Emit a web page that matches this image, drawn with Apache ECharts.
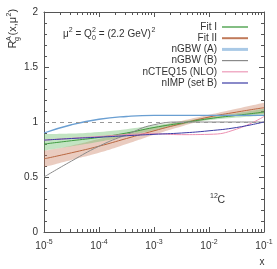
<!DOCTYPE html>
<html><head><meta charset="utf-8">
<script src="https://cdn.jsdelivr.net/npm/echarts@6/dist/echarts.min.js"></script>
<style>html,body{margin:0;padding:0;background:#fff}#c{width:277px;height:269px}</style>
</head><body><div id="c"></div>
<script>
// log10(x) sample positions
const logX   = [-5, -4.5, -4, -3.5, -3, -2.5, -2, -1.5, -1];
const fit1   = [0.80, 0.83, 0.86, 0.90, 0.95, 0.99, 1.03, 1.06, 1.09];
const fit1Lo = [0.74, 0.78, 0.82, 0.87, 0.925, 0.975, 1.015, 1.04, 1.06];
const fit1Hi = [0.89, 0.895, 0.91, 0.935, 0.97, 1.005, 1.045, 1.08, 1.12];
const fit2   = [0.665, 0.72, 0.78, 0.85, 0.92, 0.985, 1.045, 1.09, 1.13];
const fit2Lo = [0.59, 0.655, 0.72, 0.80, 0.885, 0.96, 1.025, 1.055, 1.075];
const fit2Hi = [0.74, 0.785, 0.845, 0.90, 0.955, 1.01, 1.065, 1.12, 1.175];
const ngbwA  = [0.90, 0.975, 1.025, 1.05, 1.06, 1.06, 1.06, 1.06, 1.06];
const ngbwB  = [0.50, 0.645, 0.78, 0.885, 0.975, 1.0, 1.0, 1.0, 1.0];
const ncteq  = [0.835, 0.852, 0.868, 0.885, 0.893, 0.885, 0.888, 0.935, 1.05];
const nimp   = [0.835, 0.85, 0.862, 0.875, 0.888, 0.90, 0.92, 0.95, 1.0];
const xTickExps = [-5, -4, -3, -2, -1];
const yTicks = [0, 0.5, 1, 1.5, 2];
const names = ['Fit I', 'Fit II', 'nGBW (A)', 'nGBW (B)', 'nCTEQ15 (NLO)', 'nIMP (set B)'];

const FONT = 'Liberation Sans, Arial, sans-serif';
const TXT = '#333';
const AX = '#555';
const pairs = ys => logX.map((x, i) => [x, ys[i]]);
const pairsYX = ys => logX.map((x, i) => [ys[i], x]);
const diff = (a, b) => a.map((v, i) => v - b[i]);

const minorX = [];
for (let n = -5; n < -1; n++) for (let k = 2; k <= 9; k++) minorX.push(n + Math.log10(k));

function xAxisDef(pos, major, labels) {
  return {
    type: 'value', position: pos, min: xTickExps[0], max: xTickExps[xTickExps.length - 1], interval: 1,
    axisLine: { show: major, lineStyle: { color: AX, width: 1 } },
    axisTick: major ? { show: true, inside: true, length: 5, lineStyle: { color: AX } }
                    : { show: true, inside: true, length: 3, customValues: minorX, lineStyle: { color: AX } },
    axisLabel: labels ? {
      show: true, margin: 7, color: TXT, fontFamily: FONT,
      formatter: v => '{b|10}{s|' + v + '}',
      rich: { b: { fontSize: 10, fontFamily: FONT, color: TXT, lineHeight: 14 },
              s: { fontSize: 7, fontFamily: FONT, color: TXT, verticalAlign: 'top', lineHeight: 9 } }
    } : { show: false },
    splitLine: { show: false }
  };
}
function yAxisDef(pos, labels) {
  return {
    type: 'value', position: pos, min: yTicks[0], max: yTicks[yTicks.length - 1], interval: 0.5,
    axisLine: { show: true, lineStyle: { color: AX, width: 1 } },
    axisTick: { show: true, inside: true, length: 5, lineStyle: { color: AX } },
    minorTick: { show: true, splitNumber: 5, length: 3, lineStyle: { color: AX } },
    axisLabel: labels ? { show: true, margin: 6, color: TXT, fontSize: 10, fontFamily: FONT } : { show: false },
    splitLine: { show: false }
  };
}

function line(name, ys, color, width, z) {
  return { name, type: 'line', data: pairs(ys), smooth: true, symbol: 'none', silent: true, z: z,
           lineStyle: { color, width }, itemStyle: { color } };
}
function band(stack, lo, hi, color) {
  return [
    { type: 'line', data: pairsYX(lo), encode: { x: 1, y: 0 }, stack, smooth: true, symbol: 'none', silent: true, z: 1,
      lineStyle: { opacity: 0, width: 0 } },
    { type: 'line', data: pairsYX(diff(hi, lo)), encode: { x: 1, y: 0 }, stack, smooth: true, symbol: 'none', silent: true, z: 1,
      lineStyle: { opacity: 0, width: 0 }, areaStyle: { color, opacity: 1 } }
  ];
}

const gray = line(names[3], ngbwB, '#8a8a8a', 1, 3);
gray.markLine = { silent: true, symbol: 'none', label: { show: false },
  lineStyle: { color: '#999', type: [4, 4], width: 1 }, data: [{ yAxis: 1 }] };

const bar = w => 'path://M0,0 L260,0 L260,' + (w * 10) + ' L0,' + (w * 10) + ' Z';

const chart = echarts.init(document.getElementById('c'), null, { renderer: 'canvas' });
chart.setOption({
  animation: false,
  textStyle: { fontFamily: FONT },
  grid: { left: 44, right: 13, top: 12, bottom: 37, containLabel: false },
  xAxis: [xAxisDef('bottom', true, true), xAxisDef('bottom', false, false),
          xAxisDef('top', true, false), xAxisDef('top', false, false)],
  yAxis: [yAxisDef('left', true), yAxisDef('right', false)],
  legend: {
    orient: 'vertical', align: 'right', right: 24, top: 16.5,
    itemWidth: 26, itemHeight: 11, itemGap: 0.2, symbolKeepAspect: true,
    textStyle: { fontSize: 10, color: TXT, fontFamily: FONT, lineHeight: 11 },
    data: [
      { name: names[0], icon: bar(1.4), itemStyle: { color: '#4ea34e' } },
      { name: names[1], icon: bar(2), itemStyle: { color: '#c07a5a' } },
      { name: names[2], icon: bar(3), itemStyle: { color: '#a9c9e6' } },
      { name: names[3], icon: bar(1.2), itemStyle: { color: '#8a8a8a' } },
      { name: names[4], icon: bar(1.2), itemStyle: { color: '#ec9ab8' } },
      { name: names[5], icon: bar(1.2), itemStyle: { color: '#3b3ba5' } }
    ]
  },
  series: [
    ...band('b2', fit2Lo, fit2Hi, 'rgba(200,120,90,0.38)'),
    ...band('b1', fit1Lo, fit1Hi, 'rgba(110,190,110,0.42)'),
    line(names[1], fit2, '#b8663f', 1, 3),
    line(names[0], fit1, '#3f9a3f', 1, 3),
    gray,
    line(names[2], ngbwA, '#6a9fd2', 1.3, 4),
    line(names[4], ncteq, '#ec8fb0', 1, 4),
    line(names[5], nimp, '#3b3ba5', 1, 5)
  ],
  graphic: [
    { type: 'group', x: 13, y: 48.5, rotation: Math.PI / 2, children: [
      { type: 'text', x: 0, y: 0, style: { text: 'R', fontSize: 11, fontFamily: FONT, fill: TXT, verticalAlign: 'middle', textVerticalAlign: 'middle' } },
      { type: 'text', x: 7.6, y: -4, style: { text: 'A', fontSize: 7, fontFamily: FONT, fill: TXT, verticalAlign: 'middle', textVerticalAlign: 'middle' } },
      { type: 'text', x: 7.6, y: 4, style: { text: 'g', fontSize: 7, fontFamily: FONT, fill: TXT, verticalAlign: 'middle', textVerticalAlign: 'middle' } },
      { type: 'text', x: 13, y: 0, style: { text: '(x,μ', fontSize: 11, fontFamily: FONT, fill: TXT, verticalAlign: 'middle', textVerticalAlign: 'middle' } },
      { type: 'text', x: 32, y: -4, style: { text: '2', fontSize: 7, fontFamily: FONT, fill: TXT, verticalAlign: 'middle', textVerticalAlign: 'middle' } },
      { type: 'text', x: 36, y: 0, style: { text: ')', fontSize: 11, fontFamily: FONT, fill: TXT, verticalAlign: 'middle', textVerticalAlign: 'middle' } }
    ]},
    { type: 'group', x: 63, y: 34, children: [
      { type: 'text', x: 0, y: 0, style: { text: 'μ', fontSize: 10, fontFamily: FONT, fill: TXT, verticalAlign: 'middle', textVerticalAlign: 'middle' } },
      { type: 'text', x: 5.8, y: -4, style: { text: '2', fontSize: 7, fontFamily: FONT, fill: TXT, verticalAlign: 'middle', textVerticalAlign: 'middle' } },
      { type: 'text', x: 9.7, y: 0, style: { text: ' = Q', fontSize: 10, fontFamily: FONT, fill: TXT, verticalAlign: 'middle', textVerticalAlign: 'middle' } },
      { type: 'text', x: 29, y: -4, style: { text: '2', fontSize: 7, fontFamily: FONT, fill: TXT, verticalAlign: 'middle', textVerticalAlign: 'middle' } },
      { type: 'text', x: 29, y: 4, style: { text: '0', fontSize: 7, fontFamily: FONT, fill: TXT, verticalAlign: 'middle', textVerticalAlign: 'middle' } },
      { type: 'text', x: 33, y: 0, style: { text: ' = (2.2 GeV)', fontSize: 10, fontFamily: FONT, fill: TXT, verticalAlign: 'middle', textVerticalAlign: 'middle' } },
      { type: 'text', x: 88.5, y: -4, style: { text: '2', fontSize: 7, fontFamily: FONT, fill: TXT, verticalAlign: 'middle', textVerticalAlign: 'middle' } }
    ]},
    { type: 'text', x: 210, y: 196, style: { text: '12', fontSize: 7, fontFamily: FONT, fill: TXT, verticalAlign: 'middle', textVerticalAlign: 'middle' } },
    { type: 'text', x: 217.5, y: 200, style: { text: 'C', fontSize: 10.5, fontFamily: FONT, fill: TXT, verticalAlign: 'middle', textVerticalAlign: 'middle' } },
    { type: 'text', x: 262, y: 262, style: { text: 'x', fontSize: 10, fontFamily: FONT, fill: TXT, align: 'center', textAlign: 'center', verticalAlign: 'middle', textVerticalAlign: 'middle' } }
  ]
});
</script>
</body></html>
